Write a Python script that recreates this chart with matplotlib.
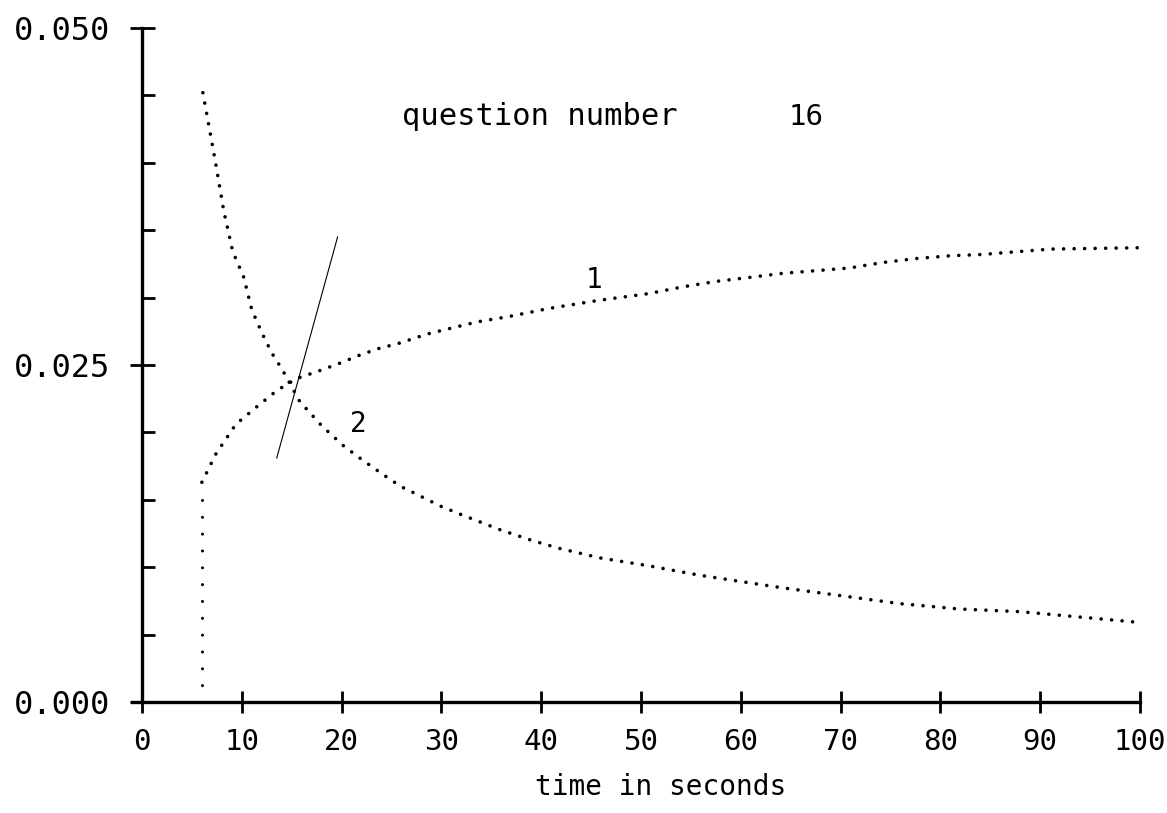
import numpy as np
import matplotlib
matplotlib.use("Agg")
import matplotlib.pyplot as plt
from matplotlib.ticker import MultipleLocator

# curve 1: rising response
t1 = [6.0, 7.4, 9.4, 11.5, 13.5, 15.5, 17.5, 19.7, 21.7, 23.6, 25.7, 28.6,
      30.8, 33.6, 36.8, 40.8, 45.8, 50.8, 54.2, 57.5, 60.9, 64.2, 67.6, 70.9,
      74.2, 77.6, 80.9, 84.2, 87.6, 91.0, 100.0]
y1 = [0.0163, 0.0184, 0.0206, 0.0219, 0.0231, 0.0240, 0.0245, 0.0251, 0.0257,
      0.0262, 0.0266, 0.0273, 0.0277, 0.0282, 0.0286, 0.0292, 0.0298, 0.0303,
      0.0308, 0.0312, 0.0315, 0.0318, 0.0320, 0.0322, 0.0326, 0.0329, 0.0331,
      0.0332, 0.0334, 0.0336, 0.0337]

# curve 2: decaying response
t2 = [6.1, 7.3, 8.2, 9.1, 10.2, 11.0, 12.0, 13.0, 14.1, 15.8, 18.0, 20.2,
      22.0, 24.1, 25.9, 27.0, 30.0, 32.0, 35.8, 39.0, 41.8, 45.8, 50.8, 55.9,
      63.9, 69.9, 75.9, 81.9, 88.0, 94.0, 100.0]
y2 = [0.0452, 0.0403, 0.0364, 0.0334, 0.0315, 0.0291, 0.0274, 0.0259, 0.0246,
      0.0223, 0.0205, 0.0190, 0.0180, 0.0169, 0.0160, 0.0156, 0.0145, 0.0139,
      0.0128, 0.0120, 0.0114, 0.0107, 0.0101, 0.0094, 0.0085, 0.0079, 0.0073,
      0.0069, 0.0067, 0.0063, 0.0059]

# start marker and slope line through the crossing
t_start = 6.0
y_start = 0.0162
slope_t = [13.5, 19.6]
slope_y = [0.0181, 0.0345]

x_ticks = [0, 10, 20, 30, 40, 50, 60, 70, 80, 90, 100]
y_ticks = [0.000, 0.025, 0.050]
y_tick_labels = ["0.000", "0.025", "0.050"]

plt.rcParams["font.family"] = ["DejaVu Sans Mono"]

fig = plt.figure(figsize=(11.67, 8.13), dpi=100)
ax = fig.add_axes([142 / 1167, 1 - 702 / 813, (1140 - 142) / 1167, (702 - 28) / 813])

dot = dict(color="black", lw=2.6, linestyle=(0, (0.01, 2.9)),
           dash_capstyle="round", solid_capstyle="round")
ax.plot(t1, y1, **dot)
ax.plot(t2, y2, **dot)
ax.plot([t_start, t_start], [0, y_start], color="black", lw=2.2,
        linestyle=(0, (0.01, 5.5)), dash_capstyle="round")
ax.plot(slope_t, slope_y, color="black", lw=0.8)

ax.text(45.3, 0.0313, "1", fontsize=20, ha="center", va="center")
ax.text(21.7, 0.0206, "2", fontsize=20, ha="center", va="center")
ax.text(26.1, 0.0428, "question number", fontsize=22, ha="left", va="baseline")
ax.text(64.8, 0.0428, "16", fontsize=21, ha="left", va="baseline")

ax.set_xlim(0, 100)
ax.set_ylim(0, 0.050)
for side in ("top", "right"):
    ax.spines[side].set_visible(False)
for side in ("left", "bottom"):
    ax.spines[side].set_linewidth(2.4)
ax.spines["bottom"].set_bounds(-1, 100)

ax.set_xticks(x_ticks)
ax.set_xticklabels([str(v) for v in x_ticks])
ax.set_yticks(y_ticks)
ax.set_yticklabels(y_tick_labels)
ax.yaxis.set_minor_locator(MultipleLocator(0.005))
ax.tick_params(axis="x", direction="inout", length=16, width=2, pad=11,
               labelsize=21)
ax.tick_params(axis="y", which="major", direction="inout", length=18, width=2,
               pad=14, labelsize=23)
ax.tick_params(axis="y", which="minor", direction="in", length=9, width=2)

ax.set_xlabel("time in seconds", fontsize=20)
ax.xaxis.set_label_coords(0.52, -0.105)

fig.savefig("out.png", dpi=100)
